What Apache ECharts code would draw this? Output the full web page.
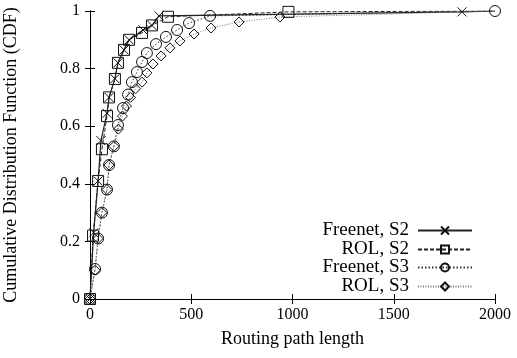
<!DOCTYPE html>
<html><head><meta charset="utf-8">
<script src="https://cdn.jsdelivr.net/npm/echarts@6/dist/echarts.min.js"></script>
<style>html,body{margin:0;padding:0;background:#fff}#c{width:517px;height:358px}</style>
</head><body><div id="c"></div>
<script>
// Data
var seriesNames = ['Freenet, S2', 'ROL, S2', 'Freenet, S3', 'ROL, S3'];
var freenetS2X = [0, 18, 40, 54, 84, 94, 123, 138, 168, 193, 262, 306, 341, 1837, 2000];
var freenetS2Y = [0, 0.23, 0.41, 0.55, 0.645, 0.70, 0.765, 0.82, 0.865, 0.90, 0.934, 0.95, 0.983, 0.997, 1];
var rolS2X = [0, 15, 40, 59, 84, 94, 123, 138, 168, 193, 257, 306, 385, 980, 2000];
var rolS2Y = [0, 0.22, 0.41, 0.52, 0.635, 0.70, 0.764, 0.82, 0.865, 0.90, 0.924, 0.95, 0.98, 0.997, 1];
var freenetS3X = [0, 25, 40, 59, 84, 94, 118, 138, 163, 188, 207, 232, 257, 281, 326, 375, 430, 489, 593, 2000];
var freenetS3Y = [0, 0.104, 0.21, 0.30, 0.38, 0.465, 0.53, 0.604, 0.663, 0.71, 0.753, 0.788, 0.823, 0.854, 0.885, 0.91, 0.934, 0.958, 0.983, 1];
var rolS3X = [0, 25, 40, 59, 84, 94, 118, 140, 160, 180, 200, 225, 257, 281, 311, 351, 395, 444, 514, 598, 736, 938, 2000];
var rolS3Y = [0, 0.10, 0.21, 0.30, 0.38, 0.465, 0.53, 0.59, 0.635, 0.67, 0.70, 0.73, 0.753, 0.785, 0.816, 0.844, 0.872, 0.896, 0.92, 0.941, 0.962, 0.979, 1];
var xTicks = [0, 500, 1000, 1500, 2000];
var yTicks = [0, 0.2, 0.4, 0.6, 0.8, 1];

var FONT = 'Liberation Serif';
var crossPath = 'path://M0,0L10,10M10,0L0,10';

function pairs(xs, ys, markLast) {
  return xs.map(function (x, i) {
    var d = { value: [x, ys[i]] };
    if (i === xs.length - 1 && !markLast) d.symbol = 'none';
    return d;
  });
}

function mk(name, xs, ys, markLast, symbol, size, lineType, lineColor, lineWidth) {
  return {
    name: name, type: 'line', data: pairs(xs, ys, markLast),
    symbol: symbol, symbolSize: size, showAllSymbol: true,
    lineStyle: { color: lineColor, width: lineWidth, type: lineType },
    itemStyle: { color: 'none', borderColor: '#111', borderWidth: 1 },
    emphasis: { disabled: true }, animation: false, z: 3
  };
}

var chart = echarts.init(document.getElementById('c'), null, { renderer: 'canvas' });

var legendCenters = [231, 250, 268, 287];
var legends = seriesNames.map(function (n, i) {
  return {
    data: [n], right: 44, top: legendCenters[i] - 10, orient: 'vertical', align: 'right',
    itemWidth: 54, itemHeight: 10, itemGap: 0, padding: 0, selectedMode: false,
    textStyle: { fontFamily: FONT, fontSize: 19, color: '#000', padding: [0, 4, 0, 0] }
  };
});

var axisCommon = {
  type: 'value', min: 0,
  axisLine: { show: true, lineStyle: { color: '#000', width: 1 } },
  axisTick: { show: true, inside: true, length: 5, lineStyle: { color: '#000' } },
  splitLine: { show: false }
};

chart.setOption({
  backgroundColor: '#fff',
  animation: false,
  grid: { left: 90, right: 22, top: 11, bottom: 59, containLabel: false, outerBoundsMode: 'none' },
  legend: legends,
  xAxis: [
    Object.assign({}, axisCommon, {
      max: 2000, interval: 500, position: 'bottom',
      name: 'Routing path length', nameLocation: 'middle', nameGap: 31,
      nameTextStyle: { fontFamily: FONT, fontSize: 18, color: '#000' },
      axisLabel: { fontFamily: FONT, fontSize: 16, color: '#000', margin: 8,
        formatter: function (v) { return xTicks.indexOf(v) >= 0 ? String(v) : ''; } }
    }),
    Object.assign({}, axisCommon, {
      max: 2000, interval: 500, position: 'top', axisLabel: { show: false }
    })
  ],
  yAxis: [
    Object.assign({}, axisCommon, {
      max: 1, interval: 0.2, position: 'left',
      name: 'Cumulative Distribution Function (CDF)', nameLocation: 'middle', nameGap: 70,
      nameTextStyle: { fontFamily: FONT, fontSize: 18, color: '#000' },
      axisLabel: { fontFamily: FONT, fontSize: 16, color: '#000', margin: 10,
        formatter: function (v) {
          var t = yTicks.filter(function (y) { return Math.abs(y - v) < 1e-9; });
          return t.length ? String(Math.round(t[0] * 10) / 10) : '';
        } }
    }),
    Object.assign({}, axisCommon, {
      max: 1, interval: 0.2, position: 'right', axisLabel: { show: false }
    })
  ],
  series: [
    mk(seriesNames[0], freenetS2X, freenetS2Y, false, crossPath, 9, 'solid', '#222', 1.2),
    mk(seriesNames[1], rolS2X, rolS2Y, false, 'rect', 11, [4, 2], '#222', 1),
    mk(seriesNames[2], freenetS3X, freenetS3Y, true, 'circle', 11, [1.5, 2], '#333', 1),
    mk(seriesNames[3], rolS3X, rolS3Y, false, 'diamond', 10, [1, 1.5], '#777', 1)
  ]
});
</script>
</body></html>
